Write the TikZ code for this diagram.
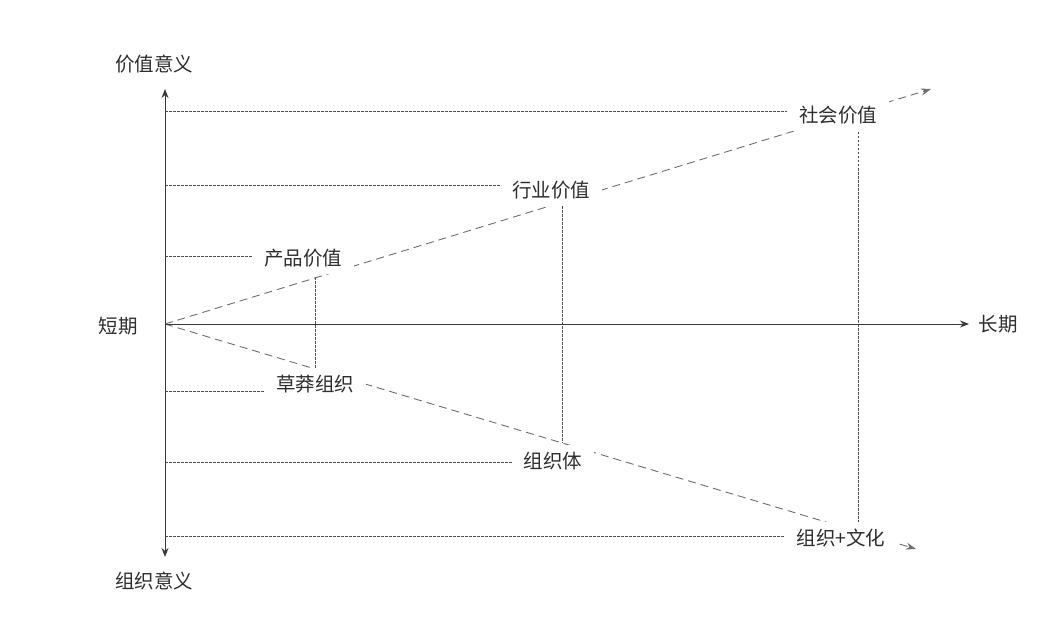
\documentclass[tikz,border=0pt]{standalone}
\usepackage{fontspec}
\setmainfont{Noto Sans CJK SC}
\usetikzlibrary{arrows.meta}
\definecolor{axisc}{HTML}{3A3A3A}
\definecolor{dashc}{HTML}{6E6E6E}
\definecolor{dotc}{HTML}{505050}
\definecolor{txtc}{HTML}{2E2E2E}
\tikzset{
  axisline/.style={draw=axisc, line width=1pt, {Stealth[length=9pt,width=7pt]}-{Stealth[length=9pt,width=7pt]}},
  xaxisline/.style={draw=axisc, line width=0.9pt, -{Stealth[length=9pt,width=7pt]}},
  trendline/.style={draw=dashc, line width=0.9pt, dash pattern=on 8pt off 5pt, -{Stealth[length=10pt,width=7pt]}},
  guideline/.style={draw=dotc, line width=0.7pt, dash pattern=on 2.5pt off 1.5pt},
  lbl/.style={fill=white, inner xsep=12pt, inner ysep=0pt, minimum height=32pt, text=txtc, font=\fontsize{19.5}{21}\selectfont},
  axislbl/.style={text=txtc, font=\fontsize{19.5}{21}\selectfont, inner sep=0pt}
}
\begin{document}
\begin{tikzpicture}[x=1pt,y=-1pt]
\useasboundingbox (0,0) rectangle (1064,631);
\coordinate (O) at (165,324);
\coordinate (ytop) at (165,89);
\coordinate (ybot) at (165,557);
\coordinate (xend) at (969,324);
\coordinate (uend) at (931,89);
\coordinate (lend) at (916,549);
% points on trend lines
\coordinate (u1) at (315,277);
\coordinate (u2) at (562,206);
\coordinate (u3) at (858,112);
\coordinate (l1) at (315,369);
\coordinate (l2) at (562,443);
\coordinate (l3) at (858,532);
% horizontal guide starts on the axis
\coordinate (h1) at (165,111);
\coordinate (h2) at (165,185);
\coordinate (h3) at (165,256);
\coordinate (h4) at (165,391);
\coordinate (h5) at (165,462);
\coordinate (h6) at (165,536);
\coordinate (h1e) at (835,111);
\coordinate (h2e) at (551,185);
\coordinate (h3e) at (303,256);
\coordinate (h4e) at (315,391);
\coordinate (h5e) at (551,462);
\coordinate (h6e) at (842,536);

% guides
\draw[guideline] (h1) -- (h1e);
\draw[guideline] (h2) -- (h2e);
\draw[guideline] (h3) -- (h3e);
\draw[guideline] (h4) -- (h4e);
\draw[guideline] (h5) -- (h5e);
\draw[guideline] (h6) -- (h6e);
\draw[guideline] (u1) -- (l1);
\draw[guideline] (u2) -- (l2);
\draw[guideline] (u3) -- (l3);

% trend lines
\draw[trendline] (O) -- (uend);
\draw[trendline] (O) -- (lend);

% axes
\draw[axisline] (ybot) -- (ytop);
\draw[xaxisline] (O) -- (xend);

% labels
\node[lbl] (p1) at (303,258) {产品价值};
\node[lbl] (p2) at (551,190) {行业价值};
\node[lbl] (p3) at (838,115) {社会价值};
\node[lbl] (q1) at (315,384) {草莽组织};
\node[lbl] (q2) at (553,461) {组织体};
\node[lbl] (q3) at (841,538) {组织+文化};

\node[axislbl] (ya) at (154,64) {价值意义};
\node[axislbl] (yb) at (154,581) {组织意义};
\node[axislbl] (xa) at (118,326) {短期};
\node[axislbl] (xb) at (998,324) {长期};
\end{tikzpicture}
\end{document}
